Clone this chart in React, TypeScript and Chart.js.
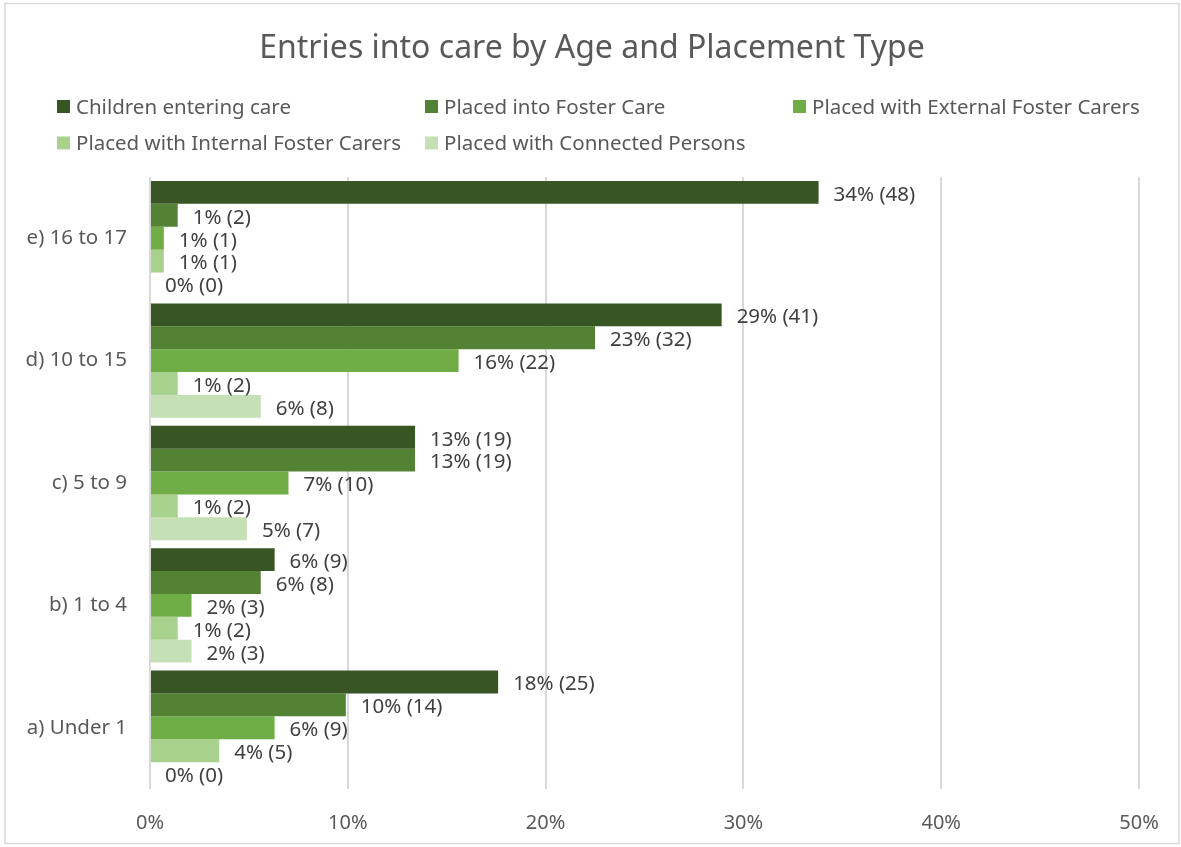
import React, { useEffect, useRef } from "react";
import { Chart, registerables } from "chart.js";

Chart.register(...registerables);

const categories = ["e) 16 to 17", "d) 10 to 15", "c) 5 to 9", "b) 1 to 4", "a) Under 1"];
const seriesNames = [
  "Children entering care",
  "Placed into Foster Care",
  "Placed with External Foster Carers",
  "Placed with Internal Foster Carers",
  "Placed with Connected Persons",
];
const seriesColors = ["#375623", "#548235", "#70ad47", "#a9d18e", "#c5e0b4"];

// percentages (bar lengths), top-to-bottom category order
const childrenPct = [33.8, 28.9, 13.4, 6.3, 17.6];
const fosterPct = [1.4, 22.5, 13.4, 5.6, 9.9];
const externalPct = [0.7, 15.6, 7.0, 2.1, 6.3];
const internalPct = [0.7, 1.4, 1.4, 1.4, 3.5];
const connectedPct = [0, 5.6, 4.9, 2.1, 0];

// counts shown in the labels
const childrenCount = [48, 41, 19, 9, 25];
const fosterCount = [2, 32, 19, 8, 14];
const externalCount = [1, 22, 10, 3, 9];
const internalCount = [1, 2, 2, 2, 5];
const connectedCount = [0, 8, 7, 3, 0];

const xTicks = [0, 10, 20, 30, 40, 50];

const FONT = "'Noto Sans', 'Open Sans', sans-serif";
const TEXT = "#595959";

export default function App() {
  const ref = useRef<HTMLCanvasElement | null>(null);

  useEffect(() => {
    document.body.style.margin = "0";
    const values = [childrenPct, fosterPct, externalPct, internalPct, connectedPct];
    const counts = [childrenCount, fosterCount, externalCount, internalCount, connectedCount];

    const framePlugin = {
      id: "frame",
      beforeDraw(chart: any) {
        const ctx = chart.ctx;
        ctx.save();
        ctx.fillStyle = "#ffffff";
        ctx.fillRect(0, 0, chart.width, chart.height);
        ctx.strokeStyle = "#d9d9d9";
        ctx.lineWidth = 1.5;
        ctx.strokeRect(5, 3.5, 1174, 840);
        // title
        ctx.fillStyle = TEXT;
        ctx.font = `32px ${FONT}`;
        ctx.textAlign = "center";
        ctx.textBaseline = "middle";
        ctx.fillText("Entries into care by Age and Placement Type", 592, 49);
        // legend
        const pos = [
          [57, 106.5],
          [425, 106.5],
          [793, 106.5],
          [57, 143],
          [425, 143],
        ];
        ctx.font = `20.5px ${FONT}`;
        ctx.textAlign = "left";
        seriesNames.forEach((n, i) => {
          const [x, y] = pos[i];
          ctx.fillStyle = seriesColors[i];
          ctx.fillRect(x, y - 6.5, 13, 13);
          ctx.fillStyle = TEXT;
          ctx.fillText(n, x + 19, y + 1.5);
        });
        ctx.restore();
      },
    };

    const labelPlugin = {
      id: "barLabels",
      afterDatasetsDraw(chart: any) {
        const ctx = chart.ctx;
        ctx.save();
        ctx.font = `20.5px ${FONT}`;
        ctx.fillStyle = "#404040";
        ctx.textAlign = "left";
        ctx.textBaseline = "middle";
        chart.data.datasets.forEach((ds: any, di: number) => {
          const meta = chart.getDatasetMeta(di);
          meta.data.forEach((el: any, i: number) => {
            const v = ds.data[i];
            const txt = `${Math.round(v)}% (${counts[di][i]})`;
            ctx.fillText(txt, el.x + 15, el.y + 2.5);
          });
        });
        ctx.restore();
      },
    };

    const chart = new Chart(ref.current as HTMLCanvasElement, {
      type: "bar",
      data: {
        labels: categories,
        datasets: seriesNames.map((n, i) => ({
          label: n,
          data: values[i],
          backgroundColor: seriesColors[i],
          borderWidth: 0,
          categoryPercentage: 0.935,
          barPercentage: 1,
        })),
      },
      options: {
        indexAxis: "y",
        animation: false,
        responsive: true,
        maintainAspectRatio: false,
        layout: { padding: { top: 177, right: 42, bottom: 0, left: 0 } },
        plugins: {
          legend: { display: false },
          title: { display: false },
          tooltip: { enabled: false },
        },
        scales: {
          x: {
            min: 0,
            max: 50,
            afterFit(scale: any) {
              scale.height = 58;
            },
            afterBuildTicks(scale: any) {
              scale.ticks = xTicks.map((v) => ({ value: v }));
            },
            grid: { color: "#d9d9d9", lineWidth: 2, drawTicks: false },
            border: { display: false },
            ticks: {
              padding: 22,
              color: TEXT,
              font: { family: FONT, size: 20 },
              callback: (v: any) => `${v}%`,
            },
          },
          y: {
            afterFit(scale: any) {
              scale.width = 150;
            },
            grid: { display: false, drawTicks: false },
            border: { display: false },
            ticks: {
              padding: 23,
              color: TEXT,
              font: { family: FONT, size: 20.5 },
            },
          },
        },
      },
      plugins: [framePlugin, labelPlugin],
    } as any);
    return () => chart.destroy();
  }, []);

  return (
    <div style={{ width: 1181, height: 847, position: "relative" }}>
      <canvas ref={ref} />
    </div>
  );
}
